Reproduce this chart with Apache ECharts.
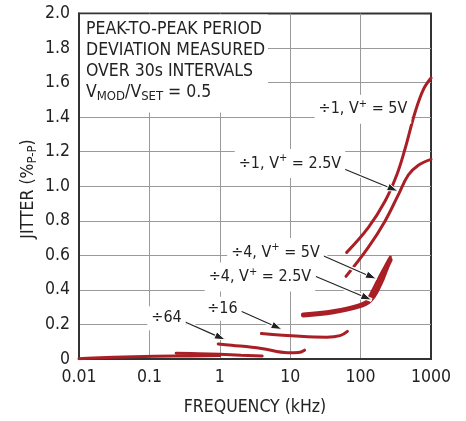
<!DOCTYPE html>
<html><head><meta charset="utf-8">
<script src="https://cdn.jsdelivr.net/npm/echarts@6/dist/echarts.min.js"></script>
<style>html,body{margin:0;padding:0;background:#fff}#c{width:466px;height:421px}</style>
</head><body><div id="c"></div>
<script>
// ---- data (frequency in kHz, jitter in %P-P) ----
const xTickLabels = ['0.01', '0.1', '1', '10', '100', '1000'];
const yTickLabels = ['0', '0.2', '0.4', '0.6', '0.8', '1.0', '1.2', '1.4', '1.6', '1.8', '2.0'];

const div1_5V   = [[63.5,0.617],[128.5,0.76],[222,0.913],[326,1.065],[428,1.217],[593,1.427],[778,1.56],[1000,1.627]];
const div1_2V5  = [[62,0.478],[128.5,0.646],[222,0.798],[343,0.95],[476,1.065],[661,1.122],[1000,1.156]];
const div4_5V   = [[122,0.33],[152,0.405],[188,0.48],[226,0.54],[265,0.59]];
const div4_2V5  = [[15.4,0.255],[41,0.274],[88,0.303],[136,0.341],[189,0.436],[235,0.531],[262,0.573]];
const div16     = [[3.9,0.147],[13.8,0.131],[33,0.126],[51,0.135],[65,0.16]];
const div64     = [[0.95,0.087],[1.47,0.08],[3.9,0.061],[9.3,0.036],[13,0.037],[16,0.051]];
const div256    = [[0.24,0.034],[0.5,0.031],[1,0.027],[2,0.022],[4,0.017]];
const div1024   = [[0.01,0.002],[0.016,0.006],[0.06,0.013],[0.24,0.017],[1,0.02]];

const noteLines = ['PEAK-TO-PEAK PERIOD', 'DEVIATION MEASURED', 'OVER 30s INTERVALS', 'V{sub|MOD}/V{sub|SET} = 0.5'];
const labelTexts = ['÷1, V{sup|+} = 5V', '÷1, V{sup|+} = 2.5V', '÷4, V{sup|+} = 5V', '÷4, V{sup|+} = 2.5V', '÷16', '÷64'];
const labelAt = [[108,1.446],[9.93,1.131],[6.18,0.617],[3.72,0.474],[1.09,0.291],[0.175,0.236]];
const arrowFrom = [null,[56.2,1.103],[28.3,0.6],[23.2,0.478],[1.94,0.28],[0.31,0.217]];
const arrowTo   = [null,[340,0.971],[168,0.463],[144,0.341],[7.65,0.171],[1.2,0.111]];

const FONT = "'DejaVu Sans Condensed','Liberation Sans Narrow',sans-serif";
const FS = 17.5;
const LFS = 16;
const RED = '#aa1f26';
const INK = '#222';

const chart = echarts.init(document.getElementById('c'), null, {renderer: 'canvas'});
function ser(name, data, w) {
  return {name, type: 'line', data, smooth: 0.4, showSymbol: false, symbol: 'none',
    lineStyle: {color: RED, width: w, cap: 'round'}, silent: true, z: 3};
}
chart.setOption({
  animation: false,
  grid: {left: 79, right: 35, top: 13.5, bottom: 58, show: true, borderColor: '#333', borderWidth: 2, backgroundColor: 'transparent'},
  xAxis: {
    type: 'log', logBase: 10, min: 0.01, max: 1000,
    axisLine: {show: true, lineStyle: {color: '#333', width: 2}},
    axisTick: {show: false},
    splitLine: {show: true, showMinLine: false, showMaxLine: false, lineStyle: {color: '#9a9a9a', width: 1}},
    axisLabel: {margin: 9, fontSize: FS, color: INK, fontFamily: FONT,
      formatter: v => xTickLabels[Math.round(Math.log10(v)) + 2]},
    name: 'FREQUENCY (kHz)', nameLocation: 'middle', nameGap: 39,
    nameTextStyle: {fontSize: FS, color: INK, fontFamily: FONT}
  },
  yAxis: {
    type: 'value', min: 0, max: 2, interval: 0.2,
    axisLine: {show: true, lineStyle: {color: '#333', width: 2}},
    axisTick: {show: false},
    splitLine: {show: true, showMinLine: false, showMaxLine: false, lineStyle: {color: '#9a9a9a', width: 1}},
    axisLabel: {margin: 9, fontSize: FS, color: INK, fontFamily: FONT,
      formatter: v => yTickLabels[Math.round(v / 0.2)]}
  },
  series: [
    ser('÷1, V+ = 5V', div1_5V, 3),
    ser('÷1, V+ = 2.5V', div1_2V5, 3),
    ser('÷4, V+ = 5V', div4_5V, 3),
    ser('÷4, V+ = 2.5V', div4_2V5, 5),
    ser('÷16', div16, 3),
    ser('÷64', div64, 3),
    ser('÷256', div256, 3),
    ser('÷1024', div1024, 3)
  ]
});

function px(p) { return chart.convertToPixel({xAxisIndex: 0, yAxisIndex: 0}, p); }
const g = [];
// note box
const tl = px([0.01, 2.0]);
g.push({type: 'rect', shape: {x: tl[0] + 1, y: tl[1] + 1, width: 188, height: 98}, style: {fill: '#fff'}, z: 10, silent: true});
noteLines.forEach((t, i) => {
  g.push({type: 'text', x: tl[0] + 7, y: tl[1] + 16 + i * 21, z: 11, silent: true,
    style: {text: t, fontSize: FS, fontFamily: FONT, fill: INK, verticalAlign: 'middle', align: 'left',
      rich: {sub: {fontSize: 13, fontFamily: FONT, fill: INK, padding: [9, 0, 0, 0]}}}});
});
// arrows
for (let i = 0; i < labelTexts.length; i++) {
  if (!arrowFrom[i]) continue;
  const a = px(arrowFrom[i]), b = px(arrowTo[i]);
  const dx = b[0] - a[0], dy = b[1] - a[1], L = Math.hypot(dx, dy);
  const ux = dx / L, uy = dy / L, nx = -uy, ny = ux;
  const hl = 11, hw = 3.8;
  const bx = b[0] - ux * hl, by = b[1] - uy * hl;
  g.push({type: 'line', shape: {x1: a[0], y1: a[1], x2: b[0], y2: b[1]}, style: {stroke: '#fff', lineWidth: 4}, z: 12, silent: true});
  g.push({type: 'line', shape: {x1: a[0], y1: a[1], x2: bx, y2: by}, style: {stroke: INK, lineWidth: 1.1}, z: 13, silent: true});
  g.push({type: 'polygon', shape: {points: [[b[0], b[1]], [bx + nx * hw, by + ny * hw], [bx - nx * hw, by - ny * hw]]},
    style: {fill: INK, stroke: '#fff', lineWidth: 1}, z: 13, silent: true});
}
// labels
labelTexts.forEach((t, i) => {
  const p = px(labelAt[i]);
  g.push({type: 'text', x: p[0], y: p[1], z: 14, silent: true,
    style: {text: t, fontSize: LFS, fontFamily: FONT, fill: INK, align: 'center', verticalAlign: 'middle',
      backgroundColor: '#fff', padding: [4, 4],
      rich: {sup: {fontSize: 11, fontFamily: FONT, fill: INK, padding: [0, 0, 10, 0]}}}});
});
// y axis name
g.push({type: 'text', x: 28, y: 189, rotation: Math.PI / 2, z: 14, silent: true,
  style: {text: 'JITTER (%{sub|P-P})', fontSize: FS, fontFamily: FONT, fill: INK, align: 'center', verticalAlign: 'middle',
    rich: {sub: {fontSize: 13, fontFamily: FONT, fill: INK, padding: [9, 0, 0, 0]}}}});
chart.setOption({graphic: g});
</script></body></html>
